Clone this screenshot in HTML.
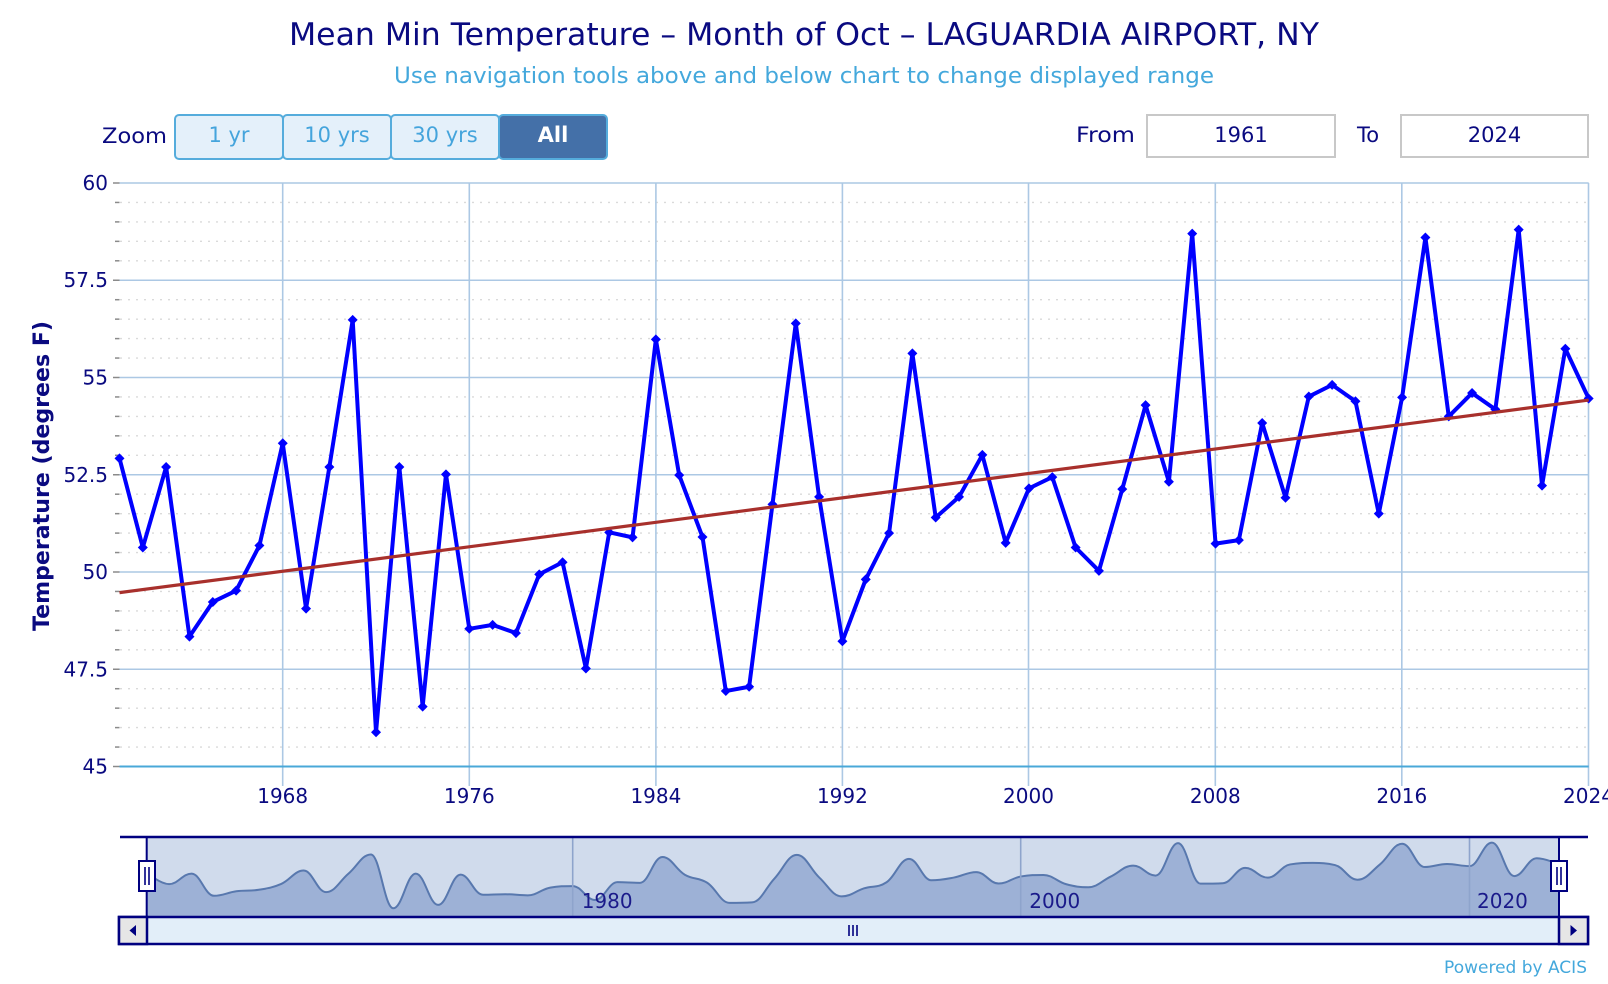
<!DOCTYPE html>
<html>
<head>
<meta charset="utf-8">
<style>
  html,body{margin:0;padding:0;background:#fff;overflow:hidden;}
  svg{display:block;}
  text{font-family:"DejaVu Sans","Liberation Sans",sans-serif;}
</style>
</head>
<body>
<svg id="chart" width="1608" height="984" viewBox="0 0 1608 984" xmlns="http://www.w3.org/2000/svg" xmlns:xlink="http://www.w3.org/1999/xlink">
  <defs>
    <path id="dm" d="M0,-0.1285 L0.2144,0 L0,0.1285 L-0.2144,0 Z" fill="#0000ff"/>
  </defs>
  <rect x="0" y="0" width="1608" height="984" fill="#ffffff"/>

  <!-- Titles -->
  <text x="804" y="45" text-anchor="middle" font-size="31" fill="#0a0a80" textLength="1030" lengthAdjust="spacingAndGlyphs">Mean Min Temperature – Month of Oct – LAGUARDIA AIRPORT, NY</text>
  <text x="804" y="83" text-anchor="middle" font-size="22" fill="#44a8dc" textLength="820" lengthAdjust="spacingAndGlyphs">Use navigation tools above and below chart to change displayed range</text>

  <!-- Zoom buttons -->
  <text x="102" y="143" font-size="21" fill="#0a0a80" textLength="65" lengthAdjust="spacingAndGlyphs">Zoom</text>
  <rect x="175" y="115" width="108" height="44" rx="4" fill="#e4f0fa" stroke="#55acdc" stroke-width="2"/>
  <rect x="283" y="115" width="108" height="44" rx="4" fill="#e4f0fa" stroke="#55acdc" stroke-width="2"/>
  <rect x="391" y="115" width="108" height="44" rx="4" fill="#e4f0fa" stroke="#55acdc" stroke-width="2"/>
  <rect x="499" y="115" width="108" height="44" rx="4" fill="#4470a8" stroke="#55acdc" stroke-width="2"/>
  <text x="229" y="142" text-anchor="middle" font-size="21" fill="#44a4dc">1 yr</text>
  <text x="337" y="142" text-anchor="middle" font-size="21" fill="#44a4dc">10 yrs</text>
  <text x="445" y="142" text-anchor="middle" font-size="21" fill="#44a4dc">30 yrs</text>
  <text x="553" y="142" text-anchor="middle" font-size="21" font-weight="bold" fill="#ffffff">All</text>

  <!-- From / To -->
  <text x="1076" y="142" font-size="21" fill="#0a0a80" textLength="59" lengthAdjust="spacingAndGlyphs">From</text>
  <rect x="1147" y="115" width="188" height="42" fill="#ffffff" stroke="#c8c8c8" stroke-width="2"/>
  <text x="1241" y="142" text-anchor="middle" font-size="21" fill="#0a0a80">1961</text>
  <text x="1357" y="142" font-size="21" fill="#0a0a80">To</text>
  <rect x="1401" y="115" width="187" height="42" fill="#ffffff" stroke="#c8c8c8" stroke-width="2"/>
  <text x="1494.5" y="142" text-anchor="middle" font-size="21" fill="#0a0a80">2024</text>

  <!-- Minor gridlines (dotted) -->
  <g stroke="#dadada" stroke-width="1.4" stroke-dasharray="2,6">
    <line x1="120" x2="1588.7" y1="202.45" y2="202.45"/>
    <line x1="120" x2="1588.7" y1="221.9" y2="221.9"/>
    <line x1="120" x2="1588.7" y1="241.35" y2="241.35"/>
    <line x1="120" x2="1588.7" y1="260.8" y2="260.8"/>
    <line x1="120" x2="1588.7" y1="299.7" y2="299.7"/>
    <line x1="120" x2="1588.7" y1="319.15" y2="319.15"/>
    <line x1="120" x2="1588.7" y1="338.6" y2="338.6"/>
    <line x1="120" x2="1588.7" y1="358.05" y2="358.05"/>
    <line x1="120" x2="1588.7" y1="396.95" y2="396.95"/>
    <line x1="120" x2="1588.7" y1="416.4" y2="416.4"/>
    <line x1="120" x2="1588.7" y1="435.85" y2="435.85"/>
    <line x1="120" x2="1588.7" y1="455.3" y2="455.3"/>
    <line x1="120" x2="1588.7" y1="494.2" y2="494.2"/>
    <line x1="120" x2="1588.7" y1="513.65" y2="513.65"/>
    <line x1="120" x2="1588.7" y1="533.1" y2="533.1"/>
    <line x1="120" x2="1588.7" y1="552.55" y2="552.55"/>
    <line x1="120" x2="1588.7" y1="591.45" y2="591.45"/>
    <line x1="120" x2="1588.7" y1="610.9" y2="610.9"/>
    <line x1="120" x2="1588.7" y1="630.35" y2="630.35"/>
    <line x1="120" x2="1588.7" y1="649.8" y2="649.8"/>
    <line x1="120" x2="1588.7" y1="688.7" y2="688.7"/>
    <line x1="120" x2="1588.7" y1="708.15" y2="708.15"/>
    <line x1="120" x2="1588.7" y1="727.6" y2="727.6"/>
    <line x1="120" x2="1588.7" y1="747.05" y2="747.05"/>
  </g>
  <!-- minor ticks -->
  <g stroke="#8a8a8a" stroke-width="1.5">
    <line x1="115" x2="119.5" y1="202.45" y2="202.45"/>
    <line x1="115" x2="119.5" y1="221.9" y2="221.9"/>
    <line x1="115" x2="119.5" y1="241.35" y2="241.35"/>
    <line x1="115" x2="119.5" y1="260.8" y2="260.8"/>
    <line x1="115" x2="119.5" y1="299.7" y2="299.7"/>
    <line x1="115" x2="119.5" y1="319.15" y2="319.15"/>
    <line x1="115" x2="119.5" y1="338.6" y2="338.6"/>
    <line x1="115" x2="119.5" y1="358.05" y2="358.05"/>
    <line x1="115" x2="119.5" y1="396.95" y2="396.95"/>
    <line x1="115" x2="119.5" y1="416.4" y2="416.4"/>
    <line x1="115" x2="119.5" y1="435.85" y2="435.85"/>
    <line x1="115" x2="119.5" y1="455.3" y2="455.3"/>
    <line x1="115" x2="119.5" y1="494.2" y2="494.2"/>
    <line x1="115" x2="119.5" y1="513.65" y2="513.65"/>
    <line x1="115" x2="119.5" y1="533.1" y2="533.1"/>
    <line x1="115" x2="119.5" y1="552.55" y2="552.55"/>
    <line x1="115" x2="119.5" y1="591.45" y2="591.45"/>
    <line x1="115" x2="119.5" y1="610.9" y2="610.9"/>
    <line x1="115" x2="119.5" y1="630.35" y2="630.35"/>
    <line x1="115" x2="119.5" y1="649.8" y2="649.8"/>
    <line x1="115" x2="119.5" y1="688.7" y2="688.7"/>
    <line x1="115" x2="119.5" y1="708.15" y2="708.15"/>
    <line x1="115" x2="119.5" y1="727.6" y2="727.6"/>
    <line x1="115" x2="119.5" y1="747.05" y2="747.05"/>
    <line x1="113" x2="119.5" y1="183" y2="183"/>
    <line x1="113" x2="119.5" y1="280.25" y2="280.25"/>
    <line x1="113" x2="119.5" y1="377.5" y2="377.5"/>
    <line x1="113" x2="119.5" y1="474.75" y2="474.75"/>
    <line x1="113" x2="119.5" y1="572" y2="572"/>
    <line x1="113" x2="119.5" y1="669.25" y2="669.25"/>
    <line x1="113" x2="119.5" y1="766.5" y2="766.5"/>
  </g>

  <!-- Major horizontal gridlines -->
  <g stroke="#acc8e4" stroke-width="1.6">
    <line x1="119.5" x2="1588.7" y1="183" y2="183"/>
    <line x1="119.5" x2="1588.7" y1="280.25" y2="280.25"/>
    <line x1="119.5" x2="1588.7" y1="377.5" y2="377.5"/>
    <line x1="119.5" x2="1588.7" y1="474.75" y2="474.75"/>
    <line x1="119.5" x2="1588.7" y1="572" y2="572"/>
    <line x1="119.5" x2="1588.7" y1="669.25" y2="669.25"/>
  </g>
  <!-- Vertical gridlines -->
  <g stroke="#acc8e4" stroke-width="1.6">
    <line x1="282.7" x2="282.7" y1="183" y2="786"/>
    <line x1="469.3" x2="469.3" y1="183" y2="786"/>
    <line x1="655.9" x2="655.9" y1="183" y2="786"/>
    <line x1="842.4" x2="842.4" y1="183" y2="786"/>
    <line x1="1028.5" x2="1028.5" y1="183" y2="786"/>
    <line x1="1215.3" x2="1215.3" y1="183" y2="786"/>
    <line x1="1401.8" x2="1401.8" y1="183" y2="786"/>
    <line x1="1588.5" x2="1588.5" y1="183" y2="786"/>
  </g>
  <line x1="119.5" x2="1588.7" y1="766.5" y2="766.5" stroke="#4aa8d8" stroke-width="2"/>

  <!-- Y labels -->
  <g font-size="20" fill="#0a0a80" text-anchor="end">
    <text x="108" y="190">60</text>
    <text x="108" y="287">57.5</text>
    <text x="108" y="384.5">55</text>
    <text x="108" y="482">52.5</text>
    <text x="108" y="579">50</text>
    <text x="108" y="676.5">47.5</text>
    <text x="108" y="773.5">45</text>
  </g>
  <text transform="translate(49,476) rotate(-90)" text-anchor="middle" font-size="22" font-weight="bold" fill="#0a0a80" textLength="310" lengthAdjust="spacingAndGlyphs">Temperature (degrees F)</text>

  <!-- X labels -->
  <g font-size="20" fill="#0a0a80" text-anchor="middle">
    <text x="282.7" y="803">1968</text>
    <text x="469.3" y="803">1976</text>
    <text x="655.9" y="803">1984</text>
    <text x="842.4" y="803">1992</text>
    <text x="1028.5" y="803">2000</text>
    <text x="1215.3" y="803">2008</text>
    <text x="1401.8" y="803">2016</text>
    <text x="1588.5" y="803">2024</text>
  </g>

  <!-- Series -->
  <g transform="matrix(23.32,0,0,-38.9,119.5,2517)">
    <polyline fill="none" stroke="#0000ff" stroke-width="4" stroke-linejoin="round" stroke-linecap="round" vector-effect="non-scaling-stroke"
      points="0,52.92 1,50.63 2,52.70 3,48.34 4,49.23 5,49.52 6,50.68 7,53.31 8,49.06 9,52.70 10,56.48 11,45.88 12,52.70 13,46.54 14,52.51 15,48.54 16,48.64 17,48.43 18,49.94 19,50.25 20,47.52 21,51.02 22,50.89 23,55.98 24,52.49 25,50.90 26,46.94 27,47.05 28,51.74 29,56.39 30,51.93 31,48.22 32,49.81 33,51.00 34,55.62 35,51.40 36,51.93 37,53.01 38,50.75 39,52.15 40,52.44 41,50.63 42,50.03 43,52.13 44,54.29 45,52.32 46,58.70 47,50.73 48,50.82 49,53.83 50,51.91 51,54.51 52,54.81 53,54.39 54,51.50 55,54.49 56,58.60 57,54.00 58,54.60 59,54.18 60,58.80 61,52.22 62,55.74 63,54.46"/>
    <use href="#dm" xlink:href="#dm" x="0" y="52.92"/><use href="#dm" xlink:href="#dm" x="1" y="50.63"/><use href="#dm" xlink:href="#dm" x="2" y="52.70"/><use href="#dm" xlink:href="#dm" x="3" y="48.34"/>
    <use href="#dm" xlink:href="#dm" x="4" y="49.23"/><use href="#dm" xlink:href="#dm" x="5" y="49.52"/><use href="#dm" xlink:href="#dm" x="6" y="50.68"/><use href="#dm" xlink:href="#dm" x="7" y="53.31"/>
    <use href="#dm" xlink:href="#dm" x="8" y="49.06"/><use href="#dm" xlink:href="#dm" x="9" y="52.70"/><use href="#dm" xlink:href="#dm" x="10" y="56.48"/><use href="#dm" xlink:href="#dm" x="11" y="45.88"/>
    <use href="#dm" xlink:href="#dm" x="12" y="52.70"/><use href="#dm" xlink:href="#dm" x="13" y="46.54"/><use href="#dm" xlink:href="#dm" x="14" y="52.51"/><use href="#dm" xlink:href="#dm" x="15" y="48.54"/>
    <use href="#dm" xlink:href="#dm" x="16" y="48.64"/><use href="#dm" xlink:href="#dm" x="17" y="48.43"/><use href="#dm" xlink:href="#dm" x="18" y="49.94"/><use href="#dm" xlink:href="#dm" x="19" y="50.25"/>
    <use href="#dm" xlink:href="#dm" x="20" y="47.52"/><use href="#dm" xlink:href="#dm" x="21" y="51.02"/><use href="#dm" xlink:href="#dm" x="22" y="50.89"/><use href="#dm" xlink:href="#dm" x="23" y="55.98"/>
    <use href="#dm" xlink:href="#dm" x="24" y="52.49"/><use href="#dm" xlink:href="#dm" x="25" y="50.90"/><use href="#dm" xlink:href="#dm" x="26" y="46.94"/><use href="#dm" xlink:href="#dm" x="27" y="47.05"/>
    <use href="#dm" xlink:href="#dm" x="28" y="51.74"/><use href="#dm" xlink:href="#dm" x="29" y="56.39"/><use href="#dm" xlink:href="#dm" x="30" y="51.93"/><use href="#dm" xlink:href="#dm" x="31" y="48.22"/>
    <use href="#dm" xlink:href="#dm" x="32" y="49.81"/><use href="#dm" xlink:href="#dm" x="33" y="51.00"/><use href="#dm" xlink:href="#dm" x="34" y="55.62"/><use href="#dm" xlink:href="#dm" x="35" y="51.40"/>
    <use href="#dm" xlink:href="#dm" x="36" y="51.93"/><use href="#dm" xlink:href="#dm" x="37" y="53.01"/><use href="#dm" xlink:href="#dm" x="38" y="50.75"/><use href="#dm" xlink:href="#dm" x="39" y="52.15"/>
    <use href="#dm" xlink:href="#dm" x="40" y="52.44"/><use href="#dm" xlink:href="#dm" x="41" y="50.63"/><use href="#dm" xlink:href="#dm" x="42" y="50.03"/><use href="#dm" xlink:href="#dm" x="43" y="52.13"/>
    <use href="#dm" xlink:href="#dm" x="44" y="54.29"/><use href="#dm" xlink:href="#dm" x="45" y="52.32"/><use href="#dm" xlink:href="#dm" x="46" y="58.70"/><use href="#dm" xlink:href="#dm" x="47" y="50.73"/>
    <use href="#dm" xlink:href="#dm" x="48" y="50.82"/><use href="#dm" xlink:href="#dm" x="49" y="53.83"/><use href="#dm" xlink:href="#dm" x="50" y="51.91"/><use href="#dm" xlink:href="#dm" x="51" y="54.51"/>
    <use href="#dm" xlink:href="#dm" x="52" y="54.81"/><use href="#dm" xlink:href="#dm" x="53" y="54.39"/><use href="#dm" xlink:href="#dm" x="54" y="51.50"/><use href="#dm" xlink:href="#dm" x="55" y="54.49"/>
    <use href="#dm" xlink:href="#dm" x="56" y="58.60"/><use href="#dm" xlink:href="#dm" x="57" y="54.00"/><use href="#dm" xlink:href="#dm" x="58" y="54.60"/><use href="#dm" xlink:href="#dm" x="59" y="54.18"/>
    <use href="#dm" xlink:href="#dm" x="60" y="58.80"/><use href="#dm" xlink:href="#dm" x="61" y="52.22"/><use href="#dm" xlink:href="#dm" x="62" y="55.74"/><use href="#dm" xlink:href="#dm" x="63" y="54.46"/>
    <line x1="0" y1="49.47" x2="63" y2="54.42" stroke="#a8302c" stroke-width="3.2" vector-effect="non-scaling-stroke"/>
  </g>

  <!-- Navigator -->
  <rect x="146.7" y="837" width="1412.3" height="80" fill="#d0dbec"/>
  <g id="navFallback" transform="matrix(22.42,0,0,-5.077,146.7,1141.2)">
    <polygon fill="#9db1d6" stroke="none"
      points="0,44.22 0,52.92 1,50.63 2,52.70 3,48.34 4,49.23 5,49.52 6,50.68 7,53.31 8,49.06 9,52.70 10,56.48 11,45.88 12,52.70 13,46.54 14,52.51 15,48.54 16,48.64 17,48.43 18,49.94 19,50.25 20,47.52 21,51.02 22,50.89 23,55.98 24,52.49 25,50.90 26,46.94 27,47.05 28,51.74 29,56.39 30,51.93 31,48.22 32,49.81 33,51.00 34,55.62 35,51.40 36,51.93 37,53.01 38,50.75 39,52.15 40,52.44 41,50.63 42,50.03 43,52.13 44,54.29 45,52.32 46,58.70 47,50.73 48,50.82 49,53.83 50,51.91 51,54.51 52,54.81 53,54.39 54,51.50 55,54.49 56,58.60 57,54.00 58,54.60 59,54.18 60,58.80 61,52.22 62,55.74 63,54.46 63,44.22"/>
    <polyline fill="none" stroke="#5878ae" stroke-width="2" stroke-linejoin="round" vector-effect="non-scaling-stroke"
      points="0,52.92 1,50.63 2,52.70 3,48.34 4,49.23 5,49.52 6,50.68 7,53.31 8,49.06 9,52.70 10,56.48 11,45.88 12,52.70 13,46.54 14,52.51 15,48.54 16,48.64 17,48.43 18,49.94 19,50.25 20,47.52 21,51.02 22,50.89 23,55.98 24,52.49 25,50.90 26,46.94 27,47.05 28,51.74 29,56.39 30,51.93 31,48.22 32,49.81 33,51.00 34,55.62 35,51.40 36,51.93 37,53.01 38,50.75 39,52.15 40,52.44 41,50.63 42,50.03 43,52.13 44,54.29 45,52.32 46,58.70 47,50.73 48,50.82 49,53.83 50,51.91 51,54.51 52,54.81 53,54.39 54,51.50 55,54.49 56,58.60 57,54.00 58,54.60 59,54.18 60,58.80 61,52.22 62,55.74 63,54.46"/>
  </g>
  <g id="navSpline"></g>
  <g stroke="#8ea4cc" stroke-width="1.6">
    <line x1="572.7" x2="572.7" y1="837" y2="917"/>
    <line x1="1020.7" x2="1020.7" y1="837" y2="917"/>
    <line x1="1469.5" x2="1469.5" y1="837" y2="917"/>
  </g>
  <g font-size="20" fill="#1a1a8a">
    <text x="581.7" y="908">1980</text>
    <text x="1029.3" y="908">2000</text>
    <text x="1477" y="908">2020</text>
  </g>
  <line x1="120" x2="1588" y1="837" y2="837" stroke="#000080" stroke-width="2.5"/>
  <line x1="146.7" x2="146.7" y1="837" y2="917" stroke="#000080" stroke-width="2"/>
  <line x1="1559" x2="1559" y1="837" y2="917" stroke="#000080" stroke-width="2"/>

  <!-- Scrollbar -->
  <rect x="119" y="917" width="1469" height="27" fill="#e2eef9" stroke="#000080" stroke-width="2.5"/>
  <rect x="119" y="917" width="28" height="27" fill="#e6e6e6" stroke="#000080" stroke-width="2.5"/>
  <rect x="1559" y="917" width="29" height="27" fill="#e6e6e6" stroke="#000080" stroke-width="2.5"/>
  <polygon points="129.5,930.5 136,925 136,936" fill="#000080"/>
  <polygon points="1570.5,925 1577,930.5 1570.5,936" fill="#000080"/>
  <g stroke="#000080" stroke-width="1.6">
    <line x1="849" x2="849" y1="925" y2="936"/>
    <line x1="853" x2="853" y1="925" y2="936"/>
    <line x1="857" x2="857" y1="925" y2="936"/>
  </g>

  <!-- Handles -->
  <rect x="139" y="861" width="16" height="30" fill="#ffffff" stroke="#000080" stroke-width="2"/>
  <line x1="145" x2="145" y1="867" y2="885" stroke="#000080" stroke-width="1.6"/>
  <line x1="149" x2="149" y1="867" y2="885" stroke="#000080" stroke-width="1.6"/>
  <rect x="1551" y="861" width="16" height="30" fill="#ffffff" stroke="#000080" stroke-width="2"/>
  <line x1="1557" x2="1557" y1="867" y2="885" stroke="#000080" stroke-width="1.6"/>
  <line x1="1561" x2="1561" y1="867" y2="885" stroke="#000080" stroke-width="1.6"/>

  <!-- Credit -->
  <text x="1587" y="973" text-anchor="end" font-size="17" fill="#44a8dc">Powered by ACIS</text>
</svg>
<script>
(function(){
  try{
    var v=[52.92,50.63,52.70,48.34,49.23,49.52,50.68,53.31,49.06,52.70,56.48,45.88,52.70,46.54,52.51,48.54,48.64,48.43,49.94,50.25,47.52,51.02,50.89,55.98,52.49,50.90,46.94,47.05,51.74,56.39,51.93,48.22,49.81,51.00,55.62,51.40,51.93,53.01,50.75,52.15,52.44,50.63,50.03,52.13,54.29,52.32,58.70,50.73,50.82,53.83,51.91,54.51,54.81,54.39,51.50,54.49,58.60,54.00,54.60,54.18,58.80,52.22,55.74,54.46];
    var pts=v.map(function(val,i){return {x:146.7+i*22.42,y:1141.2-5.077*val};});
    var s=1.5,d=s+1,n=pts.length;
    var path='M'+pts[0].x.toFixed(2)+','+pts[0].y.toFixed(2);
    for(var i=1;i<n;i++){
      var p=pts[i],last=pts[i-1],lcx=p.x,lcy=p.y;
      if(i<n-1){
        var nx=pts[i+1];
        lcx=(s*p.x+last.x)/d; lcy=(s*p.y+last.y)/d;
        var rcx=(s*p.x+nx.x)/d, rcy=(s*p.y+nx.y)/d;
        var corr=((rcy-lcy)*(rcx-p.x))/(rcx-lcx)+p.y-rcy;
        lcy+=corr; rcy+=corr;
        if(lcy>last.y&&lcy>p.y){lcy=Math.max(last.y,p.y);rcy=2*p.y-lcy;}
        else if(lcy<last.y&&lcy<p.y){lcy=Math.min(last.y,p.y);rcy=2*p.y-lcy;}
        if(rcy>nx.y&&rcy>p.y){rcy=Math.max(nx.y,p.y);lcy=2*p.y-rcy;}
        else if(rcy<nx.y&&rcy<p.y){rcy=Math.min(nx.y,p.y);lcy=2*p.y-rcy;}
        p.rcx=rcx;p.rcy=rcy;
      }
      var a=(last.rcx!==undefined)?last.rcx:last.x, b=(last.rcy!==undefined)?last.rcy:last.y;
      path+=' C'+a.toFixed(2)+','+b.toFixed(2)+' '+lcx.toFixed(2)+','+lcy.toFixed(2)+' '+p.x.toFixed(2)+','+p.y.toFixed(2);
    }
    var ns='http://www.w3.org/2000/svg';
    var g=document.getElementById('navSpline');
    var area=document.createElementNS(ns,'path');
    area.setAttribute('d',path+' L'+pts[n-1].x.toFixed(2)+',916.7 L'+pts[0].x.toFixed(2)+',916.7 Z');
    area.setAttribute('fill','#9db1d6');
    var line=document.createElementNS(ns,'path');
    line.setAttribute('d',path);
    line.setAttribute('fill','none');
    line.setAttribute('stroke','#5878ae');
    line.setAttribute('stroke-width','2');
    g.appendChild(area);g.appendChild(line);
    document.getElementById('navFallback').setAttribute('display','none');
  }catch(e){}
})();
</script>
</body>
</html>
